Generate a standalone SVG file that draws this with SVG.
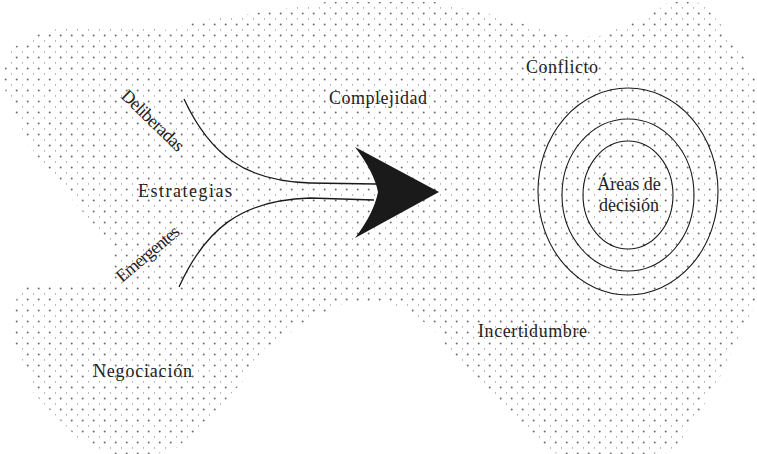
<svg xmlns="http://www.w3.org/2000/svg" width="757" height="454" viewBox="0 0 757 454">
<style>
.t{font-family:"Liberation Serif","Times New Roman",serif;fill:#222;font-size:18px}
.ln{fill:none;stroke:#1a1a1a;stroke-width:1.3}
.el{fill:none;stroke:#1a1a1a;stroke-width:1.1}
</style>
<defs>
<pattern id="dots" patternUnits="userSpaceOnUse" x="0" y="0" width="11" height="11">
<circle cx="5.7" cy="2.5" r="1" fill="#6e6e6e"/>
<rect x="0" y="7" width="0.8" height="1.8" fill="#a0a0a0"/>
</pattern>
</defs>
<rect width="757" height="454" fill="#fff"/>
<g id="field">
<path fill="url(#dots)" d="M45,31 L75,26 L125,26 L170,30 L195,21 L250,14 L288,8 L326,2 L435,2 L462,8 L487,13 L503,19 L532,26 L548,31 L575,37 L600,36 L612,30 L625,25 L640,19 L660,8 L668,2 L697,2 L706,8 L716,19 L726,31 L733,41 L740,52 L748,63 L755,80 L757,95 L757,303 L748,318 L740,335 L728,360 L716,385 L704,405 L693,422 L681,440 L668,452 L620,457 L600,457 L555,453 L540,442 L518,420 L496,398 L474,376 L453,358 L441,337 L428,325 L410,312 L390,304 L370,302 L335,305 L322,314 L298,325 L286,337 L265,348 L254,360 L244,380 L232,393 L222,404 L212,415 L200,427 L188,438 L176,448 L150,456 L120,456 L100,449 L78,438 L66,426 L55,415 L44,404 L33,392 L28,370 L22,360 L17,348 L12,336 L12,310 L17,298 L22,287 L60,284 L105,283 L112,275 L112,245 L100,230 L88,218 L78,206 L68,195 L56,183 L45,170 L40,160 L33,150 L23,138 L22,126 L12,116 L12,104 L6,92 L2,80 L6,64 L8,52 L22,42 Z"/>
</g>
<g id="connectors">
<path class="ln" d="M184,99 C210,155 245,181 310,183 L376,184"/>
<path class="ln" d="M179,287 C205,230 240,200 310,198 L374,200"/>
<path fill="#1a1a1a" d="M355,147 Q374,172 378,192 Q374,213 355,238 L439,192 Z"/>
</g>
<g id="estrategias"><text class="t" x="138" y="197" font-size="21" textLength="94" lengthAdjust="spacing">Estrategias</text></g>
<g id="deliberadas"><text class="t" font-size="15" transform="translate(120,97) rotate(44)" textLength="80" lengthAdjust="spacing">Deliberadas</text></g>
<g id="emergentes"><text class="t" font-size="15" transform="translate(122,283) rotate(-40)" textLength="77" lengthAdjust="spacing">Emergentes</text></g>
<g id="complejidad"><text class="t" x="329" y="104" textLength="98" lengthAdjust="spacing">Complejidad</text></g>
<g id="conflicto"><text class="t" x="526" y="73" textLength="72" lengthAdjust="spacing">Conflicto</text></g>
<g id="areas">
<ellipse class="el" cx="628" cy="191.5" rx="90" ry="103.5"/>
<ellipse class="el" cx="628" cy="195" rx="66" ry="76"/>
<ellipse class="el" cx="628" cy="195" rx="45" ry="54"/>
<text class="t" x="629" y="190" text-anchor="middle">Áreas de</text>
<text class="t" x="629" y="211" text-anchor="middle">decisión</text>
</g>
<g id="incertidumbre"><text class="t" x="478" y="337" textLength="109" lengthAdjust="spacing">Incertidumbre</text></g>
<g id="negociacion"><text class="t" x="93" y="377" textLength="99" lengthAdjust="spacing">Negociación</text></g>
</svg>
